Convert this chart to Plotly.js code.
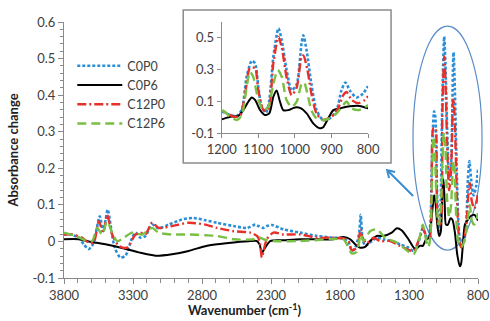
<!DOCTYPE html>
<html>
<head>
<meta charset="utf-8">
<script src="https://cdn.plot.ly/plotly-3.0.1.min.js"></script>
<style>html,body{margin:0;padding:0;background:#fff;}#chart{width:490px;height:321px;}</style>
</head>
<body>
<div id="chart"></div>
<script>
// ---- Data ----
const seriesNames = ["C0P0", "C0P6", "C12P0", "C12P6"];

const wnC0P0 = [3800,3753,3693,3657,3621,3596,3572,3541,3516,3483,3463,3432,3391,3355,3306,3282,3246,3210,3162,3114,3042,2945,2863,2776,2691,2571,2474,2414,2390,2354,2330,2293,2209,2088,1967,1847,1775,1738,1714,1690,1662,1650,1637,1618,1570,1533,1485,1425,1364,1304,1268,1232,1200,1177,1159,1145,1132,1118,1109,1100,1091,1079,1070,1059,1045,1036,1023,1009,995,982,977,968,955,941,923,905,886,873,862,850,832,814,800];
const absC0P0 = [0.019,0.019,0.010,-0.008,-0.021,-0.012,0.019,0.069,0.028,0.087,0.046,-0.017,-0.044,-0.039,0.010,0.024,0.010,0.015,0.046,0.036,0.046,0.060,0.064,0.058,0.051,0.042,0.037,0.046,0.042,0.037,0.042,0.045,0.033,0.024,0.015,0.010,0.008,-0.003,-0.026,-0.017,0.020,0.073,0.010,-0.012,0.001,0.010,0.006,0.001,-0.008,-0.017,-0.026,-0.003,0.036,0.015,0.010,0.050,0.255,0.356,0.340,0.190,0.070,0.030,0.110,0.380,0.560,0.485,0.300,0.170,0.210,0.465,0.517,0.420,0.210,0.046,-0.016,-0.006,0.046,0.170,0.220,0.170,0.126,0.150,0.197];

const wnC0P6 = [3800,3693,3621,3500,3379,3258,3138,3017,2897,2776,2691,2571,2450,2402,2383,2366,2342,2306,2209,2088,1847,1775,1726,1690,1654,1618,1582,1533,1485,1425,1388,1352,1304,1256,1220,1200,1177,1155,1141,1127,1118,1109,1095,1082,1070,1059,1050,1041,1032,1018,1000,986,968,950,932,923,909,895,877,859,841,823,800];
const absC0P6 = [0.006,0.006,0.000,-0.008,-0.018,-0.030,-0.039,-0.035,-0.026,-0.013,-0.008,-0.003,0.001,0.001,-0.008,-0.030,-0.017,0.001,0.003,0.006,0.006,0.012,0.006,-0.008,-0.017,-0.015,0.001,0.015,0.015,0.024,0.036,0.030,0.006,-0.021,-0.012,-0.012,0.005,0.010,0.046,0.100,0.126,0.110,0.046,0.015,0.026,0.130,0.170,0.100,0.046,0.046,0.063,0.060,0.026,-0.037,-0.068,-0.062,-0.006,0.046,0.057,0.067,0.072,0.072,0.057];

const wnC12P0 = [3800,3740,3669,3621,3585,3548,3516,3488,3451,3403,3343,3282,3246,3210,3162,3114,3018,2897,2776,2691,2571,2450,2402,2383,2366,2354,2330,2282,2209,2088,1967,1868,1775,1738,1714,1678,1650,1637,1606,1557,1509,1437,1364,1268,1220,1200,1186,1168,1150,1136,1123,1109,1100,1086,1073,1059,1045,1036,1023,1009,995,982,977,966,955,941,923,900,882,868,859,845,827,809,800];
const absC12P0 = [0.019,0.019,0.010,-0.003,-0.003,0.055,0.024,0.073,0.019,-0.012,-0.017,0.019,0.024,0.019,0.051,0.037,0.042,0.051,0.046,0.037,0.028,0.024,0.015,0.001,-0.044,-0.026,0.006,0.024,0.019,0.019,0.010,0.010,0.008,0.001,-0.024,-0.017,0.033,0.010,-0.005,0.010,0.001,0.001,-0.012,-0.026,0.015,0.036,0.026,0.005,0.010,0.150,0.310,0.310,0.170,0.047,0.047,0.340,0.506,0.440,0.255,0.140,0.190,0.380,0.390,0.300,0.150,0.025,-0.016,0.005,0.057,0.140,0.160,0.110,0.090,0.110,0.134];

const wnC12P6 = [3800,3716,3645,3596,3560,3524,3488,3451,3415,3367,3306,3234,3162,3114,3018,2897,2776,2691,2571,2427,2390,2354,2282,2088,1868,1775,1750,1714,1678,1650,1630,1582,1533,1473,1388,1268,1232,1200,1177,1159,1145,1132,1123,1114,1100,1086,1073,1059,1047,1036,1023,1009,995,982,975,966,955,941,923,905,886,868,859,845,827,809,800];
const absC12P6 = [0.024,0.015,0.003,0.001,0.037,0.019,0.055,0.024,0.001,0.010,0.024,0.019,0.037,0.024,0.019,0.019,0.017,0.015,0.006,0.006,0.012,0.006,0.001,0.001,0.006,0.006,-0.008,-0.033,-0.028,0.019,0.001,0.028,0.033,0.010,-0.003,-0.035,-0.003,0.046,0.005,-0.016,0.015,0.190,0.287,0.255,0.110,0.047,0.067,0.210,0.297,0.255,0.110,0.067,0.100,0.210,0.220,0.150,0.046,-0.005,-0.016,-0.006,0.026,0.078,0.100,0.057,0.046,0.063,0.078];

// Tick labels
const mainXTickVals = [3800,3300,2800,2300,1800,1300,800];
const mainXTickText = ["3800","3300","2800","2300","1800","1300","800"];
const mainYTickVals = [-0.1,0,0.1,0.2,0.3,0.4,0.5,0.6];
const mainYTickText = ["-0.1","0","0.1","0.2","0.3","0.4","0.5","0.6"];
const insetXTickVals = [1200,1100,1000,900,800];
const insetXTickText = ["1200","1100","1000","900","800"];
const insetYTickVals = [-0.1,0.1,0.3,0.5];
const insetYTickText = ["-0.1","0.1","0.3","0.5"];

// ---- Styles ----
const FONT = "Lato, 'Open Sans', sans-serif";
const styles = {
  C0P0:  {color:"#2a8fd8", dash:"3px,2px", width:2.6},
  C0P6:  {color:"#000000", dash:"solid", width:2},
  C12P0: {color:"#e8302a", dash:"9px,3px,2px,3px", width:2.4},
  C12P6: {color:"#78c043", dash:"9px,5px", width:2.4}
};
const xs = {C0P0: wnC0P0, C0P6: wnC0P6, C12P0: wnC12P0, C12P6: wnC12P6};
const ys = {C0P0: absC0P0, C0P6: absC0P6, C12P0: absC12P0, C12P6: absC12P6};

const traces = [];
seriesNames.forEach((n, i) => {
  const s = styles[n];
  traces.push({
    type:"scatter", mode:"lines", name:n, x: xs[n], y: ys[n],
    xaxis:"x", yaxis:"y", legendrank: i+1,
    line:{color:s.color, dash:s.dash, width:s.width, shape:"spline", smoothing:0.7}
  });
});
seriesNames.forEach((n) => {
  const s = styles[n];
  traces.push({
    type:"scatter", mode:"lines", name:n, x: xs[n], y: ys[n],
    xaxis:"x2", yaxis:"y2", showlegend:false,
    line:{color:s.color, dash:s.dash, width:s.width, shape:"spline", smoothing:0.7}
  });
});

const axisLine = "#8a8a8a";
const tickFont = {family:FONT, size:13, color:"#404040"};

// arrow geometry helpers (pixel -> paper), plot area 63.5..478 x 22..278
const px = v => (v - 63.5) / 414.5;
const py = v => (278 - v) / 256;
const arrowPath = "M" + px(413) + "," + py(196) + " L" + px(387) + "," + py(170) +
                  " M" + px(395) + "," + py(172) + " L" + px(387) + "," + py(170) + " L" + px(389) + "," + py(178);

const layout = {
  width:490, height:321,
  margin:{l:63.5, r:12, t:22, b:43},
  paper_bgcolor:"#ffffff",
  plot_bgcolor:"rgba(0,0,0,0)",
  font:{family:FONT, size:13, color:"#404040"},
  showlegend:true,
  legend:{x:0.02, y:0.886, xanchor:"left", yanchor:"top", bgcolor:"rgba(0,0,0,0)",
          font:{family:FONT, size:12.5, color:"#404040"}, itemwidth:45, tracegroupgap:0},
  xaxis:{
    domain:[0,1], anchor:"y", range:[3800,800], autorange:false,
    tickmode:"array", tickvals:mainXTickVals, ticktext:mainXTickText,
    ticks:"outside", ticklen:5, tickcolor:axisLine, tickfont:tickFont,
    showline:true, linecolor:axisLine, linewidth:1, showgrid:false, zeroline:false,
    minor:{tickmode:"linear", tick0:800, dtick:100, ticks:"outside", ticklen:4, tickcolor:axisLine, showgrid:false}
  },
  yaxis:{
    domain:[0,1], anchor:"x", range:[-0.1,0.6], autorange:false,
    tickmode:"array", tickvals:mainYTickVals, ticktext:mainYTickText,
    ticks:"outside", ticklen:5, tickcolor:axisLine, tickfont:tickFont,
    showline:true, linecolor:axisLine, linewidth:1, showgrid:false, zeroline:false,
    minor:{tickmode:"linear", tick0:0, dtick:0.02, ticks:"outside", ticklen:3, tickcolor:axisLine, showgrid:false},
    title:{text:"<b>Absorbance change</b>", font:{family:FONT, size:13, color:"#202020"}, standoff:10}
  },
  xaxis2:{
    domain:[0.381,0.7346], anchor:"y2", range:[1200,800], autorange:false,
    tickmode:"array", tickvals:insetXTickVals, ticktext:insetXTickText,
    ticks:"outside", ticklen:4, tickcolor:axisLine, tickfont:tickFont,
    showline:true, linecolor:axisLine, linewidth:1, showgrid:false, zeroline:false
  },
  yaxis2:{
    domain:[0.565,1.0], anchor:"x2", range:[-0.1,0.6], autorange:false,
    tickmode:"array", tickvals:insetYTickVals, ticktext:insetYTickText,
    ticks:"outside", ticklen:4, tickcolor:axisLine, tickfont:tickFont,
    showline:true, linecolor:axisLine, linewidth:1, showgrid:false, zeroline:false
  },
  shapes:[
    {type:"rect", xref:"paper", yref:"paper", x0:0.288, x1:0.790, y0:0.449, y1:1.047,
     line:{color:"#8c8c8c", width:1.5}, fillcolor:"#ffffff", layer:"below"},
    {type:"circle", xref:"paper", yref:"paper", x0:0.843, x1:1.0097, y0:0.109, y1:0.984,
     line:{color:"#5b8ec8", width:1.2}, layer:"below"},
    {type:"path", xref:"paper", yref:"paper", path:arrowPath,
     line:{color:"#3a8ed0", width:2}, layer:"above"}
  ],
  annotations:[
    {xref:"paper", yref:"paper", x:0.438, y:-0.124, xanchor:"center", yanchor:"middle", showarrow:false,
     text:"<b>Wavenumber (cm<sup>-1</sup>)</b>", font:{family:FONT, size:13, color:"#202020"}}
  ]
};

Plotly.newPlot("chart", traces, layout, {staticPlot:true, displayModeBar:false});
</script>
</body>
</html>
